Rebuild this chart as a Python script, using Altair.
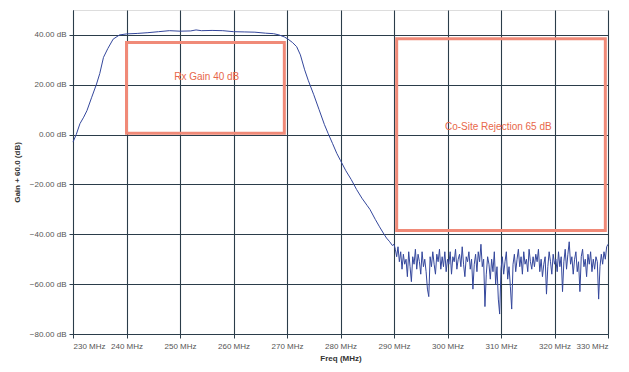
import altair as alt
import pandas as pd

# Pass band + roll-off (MHz, dB)
band_freq = [230.0, 230.6, 231.3, 232.0, 232.6, 233.5, 234.4, 235.0, 235.7, 236.5, 237.5, 238.7,
             240.0, 242.0, 244.0, 246.0, 248.0, 250.0, 252.0, 253.0, 254.0, 256.0, 258.0, 260.0,
             262.0, 264.0, 266.0, 267.5, 268.5, 269.5, 270.2, 271.0, 271.8, 272.5, 273.3, 274.0,
             275.0, 276.0, 277.0, 277.7, 278.5, 279.3, 280.0, 281.0, 282.0, 283.0, 284.0, 285.0,
             285.5, 286.5, 287.3, 288.0, 288.6, 289.2, 289.7, 290.0]
band_gain = [-3.0, 0.0, 4.4, 7.0, 9.6, 15.0, 20.3, 24.5, 31.0, 34.5, 38.3, 40.0,
             40.4, 40.6, 40.9, 41.3, 41.7, 41.5, 41.6, 42.0, 41.7, 41.8, 41.7, 41.3,
             41.2, 41.1, 40.7, 40.5, 40.0, 39.2, 38.3, 37.0, 35.3, 32.0, 26.0, 21.6,
             16.0, 10.0, 4.0, 0.4, -3.5, -7.5, -10.4, -14.5, -18.0, -22.0, -25.5, -28.5,
             -30.0, -34.0, -37.0, -39.5, -41.5, -43.0, -44.5, -44.0]

# Noise floor, 290.25 .. 330.0 MHz in 0.25 MHz steps
noise_gain = [
    -46, -49, -45, -51, -47, -54, -48, -52,
    -50, -57, -47, -53, -59, -49, -52, -46,
    -54, -48, -51, -56, -47, -53, -50, -55,
    -62, -65, -49, -53, -47, -52, -56, -48,
    -51, -46, -54, -49, -53, -47, -55, -50,
    -52, -47, -56, -49, -51, -46, -54, -50,
    -48, -53, -45, -52, -57, -49, -51, -47,
    -54, -50, -62, -52, -48, -55, -47, -51,
    -44, -53, -50, -69, -56, -49, -52, -58,
    -50, -55, -47, -60, -53, -66, -72, -54,
    -49, -56, -51, -47, -58, -53, -61, -70,
    -52, -48, -55, -50, -46, -53, -49, -56,
    -47, -52, -50, -55, -46, -51, -54, -49,
    -53, -48, -51, -46, -55, -50, -57, -52,
    -49, -64, -53, -47, -51, -56, -48, -52,
    -50, -55, -47, -53, -49, -63, -51, -46,
    -54, -48, -43, -52, -49, -56, -50, -47,
    -55, -51, -63, -49, -46, -53, -50, -57,
    -48, -52, -47, -55, -50, -54, -49, -51,
    -66, -53, -48, -52, -47, -50, -45, -44,
]
noise_freq = [290.0 + 0.25 * (i + 1) for i in range(len(noise_gain))]

# Annotation boxes
box_labels = ["Rx Gain 40 dB", "Co-Site Rejection 65 dB"]
box_x1 = [240.0, 290.5]
box_x2 = [269.5, 329.5]
box_y1 = [0.5, -38.5]
box_y2 = [37.0, 38.5]
label_x = [255.0, 309.5]
label_y = [23.0, 3.0]

x_ticks = list(range(230, 331, 10))
y_ticks = list(range(-80, 41, 20))

curve = pd.DataFrame({"freq": band_freq + noise_freq, "gain": band_gain + noise_gain})
boxes = pd.DataFrame({"x1": box_x1, "x2": box_x2, "y1": box_y1, "y2": box_y2})
labels = pd.DataFrame({"x": label_x, "y": label_y, "t": box_labels})

FONT = "Liberation Sans"
xs = alt.Scale(domain=[230, 330], nice=False)
ys = alt.Scale(domain=[-80, 50], nice=False)

x_axis = alt.Axis(values=x_ticks, labelExpr="datum.value + ' MHz'", title="Freq (MHz)",
                  grid=True, gridColor="#2b3d4a", gridWidth=1.1, domainColor="#2b3d4a",
                  tickColor="#2b3d4a", tickSize=4, labelFontSize=8, labelColor="#555555",
                  labelFont=FONT, titleFont=FONT, titleFontSize=8, titleFontWeight="bold",
                  titleColor="#333333", titlePadding=4, labelPadding=4)
y_axis = alt.Axis(values=y_ticks, labelExpr="format(datum.value, '.2f') + ' dB'",
                  title="Gain + 60.0 (dB)", grid=True, gridColor="#2b3d4a", gridWidth=1.1,
                  domainColor="#2b3d4a", tickColor="#2b3d4a", tickSize=4, labelFontSize=8,
                  labelColor="#555555", labelFont=FONT, titleFont=FONT, titleFontSize=8,
                  titleFontWeight="bold", titleColor="#333333", titlePadding=8, labelPadding=3)

line = alt.Chart(curve).mark_line(color="#34479c", strokeWidth=1).encode(
    x=alt.X("freq:Q", scale=xs, axis=x_axis),
    y=alt.Y("gain:Q", scale=ys, axis=y_axis),
)

rects = alt.Chart(boxes).mark_rect(fill=None, stroke="#f08a78", strokeWidth=3).encode(
    x=alt.X("x1:Q", scale=xs), x2="x2:Q",
    y=alt.Y("y1:Q", scale=ys), y2="y2:Q",
)

texts = alt.Chart(labels).mark_text(color="#e8674a", fontSize=10, font=FONT).encode(
    x=alt.X("x:Q", scale=xs), y=alt.Y("y:Q", scale=ys), text="t:N",
)

chart = alt.layer(rects, line, texts).properties(
    width=535, height=324,
    autosize=alt.AutoSizeParams(type="none"),
    padding={"left": 65, "top": 2, "right": 5, "bottom": 30},
).configure_view(stroke="#c8cdd2", strokeWidth=1).configure(background="white")

chart.save("out.html", embed_options={"renderer": "svg", "actions": False})
